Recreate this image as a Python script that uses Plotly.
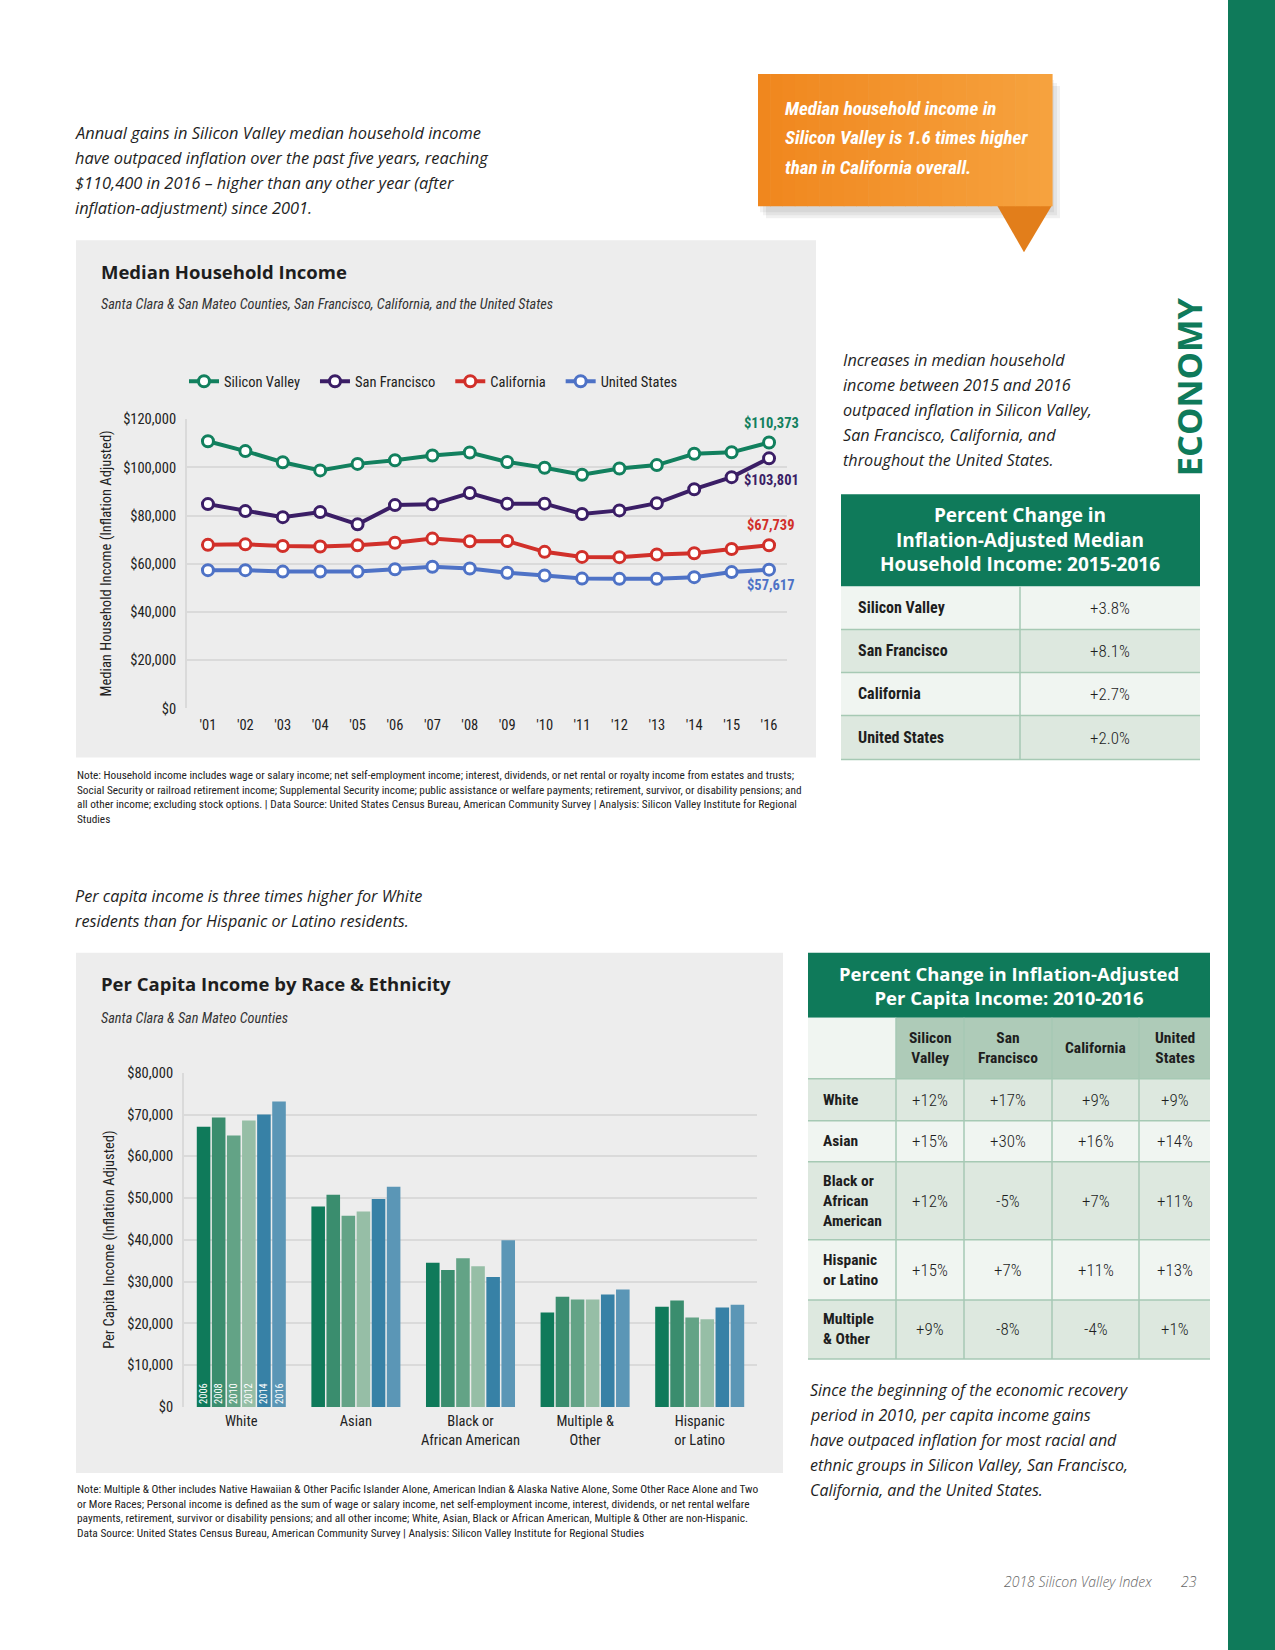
import plotly.graph_objects as go

W, H = 1275, 1650          # page size
FW, FH = W, H
# the photographed page is shifted by ~8px and squeezed ~1.1% vertically; compensate
VOFF, VSC = 8.0, 0.989
def X(p): return p / FW
def Y(p): return 1 - ((p - VOFF) / VSC) / FH

NARROW = "Roboto Condensed, Liberation Sans Narrow, DejaVu Sans Condensed, Roboto, sans-serif"
SANS = "Open Sans, Lato, sans-serif"
GREEN = "#0F7A5A"
PANEL = "#EDEDED"
GRID = "#DADADA"
TXT = "#1E1E1E"
NB = "\u00a0"

# ---------------- data ----------------
years = list(range(2001, 2017))
year_ticks = ["'01", "'02", "'03", "'04", "'05", "'06", "'07", "'08",
              "'09", "'10", "'11", "'12", "'13", "'14", "'15", "'16"]
silicon_valley = [110900, 106800, 102200, 98800, 101500, 103000, 105000, 106200,
                  102300, 99900, 97000, 99600, 101000, 105700, 106300, 110373]
san_francisco = [84800, 81900, 79400, 81500, 76400, 84400, 84700, 89400,
                 85000, 85000, 80700, 82200, 85200, 91000, 96000, 103801]
california = [67900, 68100, 67400, 67200, 67700, 68800, 70500, 69400,
              69500, 65000, 62900, 62800, 63900, 64400, 66200, 67739]
united_states = [57400, 57400, 56800, 56800, 56800, 57800, 58800, 58100,
                 56300, 55200, 53900, 53800, 53800, 54500, 56600, 57617]
line_names = ["Silicon Valley", "San Francisco", "California", "United States"]
line_colors = ["#12805E", "#3B1E66", "#D1302A", "#4E72C6"]
end_shift = [19, -22, 20, -16]

race_groups = ["White", "Asian", "Black or<br>African American",
               "Multiple &<br>Other", "Hispanic<br>or Latino"]
bar_years = ["2006", "2008", "2010", "2012", "2014", "2016"]
pc_2006 = [67100, 48000, 34500, 22600, 24000]
pc_2008 = [69300, 50800, 32800, 26400, 25500]
pc_2010 = [65000, 45800, 35600, 25700, 21400]
pc_2012 = [68600, 46800, 33700, 25700, 21000]
pc_2014 = [70000, 49800, 31100, 26900, 23800]
pc_2016 = [73100, 52700, 39900, 28100, 24500]
bar_colors = ["#0F7A5A", "#3A8D6E", "#63A386", "#96BEA6", "#3781A6", "#5B96B6"]

t1_labels = ["Silicon Valley", "San Francisco", "California", "United States"]
t1_values = ["+3.8%", "+8.1%", "+2.7%", "+2.0%"]

t2_cols = ["Silicon<br>Valley", "San<br>Francisco", "California", "United<br>States"]
t2_rows = ["White", "Asian", "Black or<br>African<br>American", "Hispanic<br>or Latino", "Multiple<br>& Other"]
t2_values = [["+12%", "+17%", "+9%", "+9%"],
             ["+15%", "+30%", "+16%", "+14%"],
             ["+12%", "-5%", "+7%", "+11%"],
             ["+15%", "+7%", "+11%", "+13%"],
             ["+9%", "-8%", "-4%", "+1%"]]

# ---------------- figure ----------------
fig = go.Figure()
shapes = []
ann = []

def rect(x0, y0, x1, y1, color, line=None, layer="below"):
    shapes.append(dict(type="rect", xref="paper", yref="paper", x0=X(x0), x1=X(x1),
                       y0=Y(y1), y1=Y(y0), fillcolor=color, layer=layer,
                       line=dict(width=0) if line is None else line))

def hline(x0, x1, y, color, w=1.5, layer="above"):
    shapes.append(dict(type="line", xref="paper", yref="paper", x0=X(x0), x1=X(x1),
                       y0=Y(y), y1=Y(y), line=dict(color=color, width=w), layer=layer))

def vline(x, y0, y1, color, w=1.5, layer="above"):
    shapes.append(dict(type="line", xref="paper", yref="paper", x0=X(x), x1=X(x),
                       y0=Y(y0), y1=Y(y1), line=dict(color=color, width=w), layer=layer))

def text(x, y, s, size=14, color=TXT, family=NARROW, xanchor="left", yanchor="middle",
         angle=0, align="left", weight=None):
    f = dict(size=size, color=color, family=family)
    if weight:
        f["weight"] = weight
    ann.append(dict(xref="paper", yref="paper", x=X(x), y=Y(y), text=s, showarrow=False,
                    xanchor=xanchor, yanchor=yanchor, textangle=angle, align=align, font=f))

def lines(x, y0, step, items, **kw):
    for i, s in enumerate(items):
        text(x, y0 + i * step, s, **kw)

# right green band
rect(1228, -20, 1290, 1680, GREEN)
text(1188, 387, "<b>ECONOMY</b>", size=34.5, color=GREEN, family=SANS,
     xanchor="center", angle=-90)

# orange callout with shadow
for k, a in enumerate([0.05, 0.05, 0.06]):
    o = 4 + 3 * k
    rect(758 + o - 2, 74 + o + 2, 1052 + o - 2, 206 + o + 2, "rgba(0,0,0,%.2f)" % a)
shapes.append(dict(type="path", xref="paper", yref="paper", layer="below",
                   path="M %f,%f L %f,%f L %f,%f Z" % (X(997), Y(205), X(1052), Y(205), X(1024), Y(252)),
                   fillcolor="#E27E1B", line=dict(width=0)))
nstrip = 24
c0, c1 = (240, 135, 30), (246, 162, 62)
for i in range(nstrip):
    t = i / (nstrip - 1)
    col = "rgb(%d,%d,%d)" % tuple(round(c0[j] + (c1[j] - c0[j]) * t) for j in range(3))
    xa = 758 + (1052 - 758) * i / nstrip
    xb = 758 + (1052 - 758) * (i + 1) / nstrip + 0.6
    rect(xa, 74, xb, 206, col)
lines(783, 108, 29.5, ["<b><i>Median household income in</i></b>",
                       "<b><i>Silicon Valley is 1.6 times higher</i></b>",
                       "<b><i>than in California overall.</i></b>"],
      size=19, color="white")

# intro texts
lines(73, 132.5, 25, ["<i>Annual gains in Silicon Valley median household income</i>",
                      "<i>have outpaced inflation over the past five years, reaching</i>",
                      "<i>$110,400 in 2016 – higher than any other year (after</i>",
                      "<i>inflation-adjustment) since 2001.</i>"],
      size=16.4, family=SANS)
lines(841, 360, 25, ["<i>Increases in median household</i>",
                     "<i>income between 2015 and 2016</i>",
                     "<i>outpaced inflation in Silicon Valley,</i>",
                     "<i>San Francisco, California, and</i>",
                     "<i>throughout the United States.</i>"],
      size=16.2, family=SANS)
lines(73, 895, 25, ["<i>Per capita income is three times higher for White</i>",
                    "<i>residents than for Hispanic or Latino residents.</i>"],
      size=16.2, family=SANS)
lines(808, 1389, 25, ["<i>Since the beginning of the economic recovery</i>",
                      "<i>period in 2010, per capita income gains</i>",
                      "<i>have outpaced inflation for most racial and</i>",
                      "<i>ethnic groups in Silicon Valley, San Francisco,</i>",
                      "<i>California, and the United States.</i>"],
      size=16, family=SANS)

# ---------- line chart panel ----------
rect(76, 240, 816, 757, PANEL)
text(99, 271, "<b>Median Household Income</b>", size=18.5, family=SANS)
text(99, 304, "<i>Santa Clara & San Mateo Counties, San Francisco, California, and the United States</i>",
     size=14.3, color="#333")
text(106, 563, "Median Household Income (Inflation Adjusted)", size=14.5, xanchor="center",
     angle=-90, color="#222")

for name, vals, col in zip(line_names, [silicon_valley, san_francisco, california, united_states], line_colors):
    fig.add_trace(go.Scatter(x=years, y=vals, name=name + NB * 3, mode="lines+markers",
                             line=dict(color=col, width=4),
                             marker=dict(symbol="circle", size=11, color="white",
                                         line=dict(color=col, width=3)),
                             xaxis="x", yaxis="y", showlegend=True))
for vals, col, sh in zip([silicon_valley, san_francisco, california, united_states], line_colors, end_shift):
    ann.append(dict(xref="x", yref="y", x=years[-1], y=vals[-1], text="<b>$%s</b>" % format(vals[-1], ","),
                    showarrow=False, yshift=sh, xshift=2, xanchor="center", yanchor="middle",
                    font=dict(size=14.5, color=col, family=NARROW)))

lines(75, 775, 14.7, [
    "Note: Household income includes wage or salary income; net self-employment income; interest, dividends, or net rental or royalty income from estates and trusts;",
    "Social Security or railroad retirement income; Supplemental Security income; public assistance or welfare payments; retirement, survivor, or disability pensions; and",
    "all other income; excluding stock options. | Data Source: United States Census Bureau, American Community Survey | Analysis: Silicon Valley Institute for Regional",
    "Studies"], size=11.3, color="#222")

# ---------- bar chart panel ----------
rect(76, 952, 783, 1472, PANEL)
text(99, 983, "<b>Per Capita Income by Race & Ethnicity</b>", size=18.5, family=SANS)
text(99, 1017, "<i>Santa Clara & San Mateo Counties</i>", size=14.3, color="#333")
text(110, 1239, "Per Capita Income (Inflation Adjusted)", size=14.5, xanchor="center",
     angle=-90, color="#222")

for yr, vals, col in zip(bar_years, [pc_2006, pc_2008, pc_2010, pc_2012, pc_2014, pc_2016], bar_colors):
    labels = [yr] + [""] * (len(race_groups) - 1)
    fig.add_trace(go.Bar(x=race_groups, y=vals, name=yr, marker=dict(color=col, line=dict(width=0)),
                         text=labels, textposition="inside", insidetextanchor="start",
                         textangle=-90, constraintext="none",
                         insidetextfont=dict(size=10.5, color="white", family=NARROW),
                         xaxis="x2", yaxis="y2", showlegend=False, hoverinfo="x+y"))

lines(75, 1488, 14.7, [
    "Note: Multiple & Other includes Native Hawaiian & Other Pacific Islander Alone, American Indian & Alaska Native Alone, Some Other Race Alone and Two",
    "or More Races; Personal income is defined as the sum of wage or salary income, net self-employment income, interest, dividends, or net rental welfare",
    "payments, retirement, survivor or disability pensions; and all other income; White, Asian, Black or African American, Multiple & Other are non-Hispanic.",
    "Data Source: United States Census Bureau, American Community Survey | Analysis: Silicon Valley Institute for Regional Studies"],
    size=11.4, color="#222")

# ---------- table 1 ----------
LIGHT, DARK, BORDER = "#F0F5F1", "#DDE8DF", "#A6C9B4"
t1_x = [841, 1020, 1200]
t1_y = [494, 586, 629, 672, 715, 759]
rect(t1_x[0], t1_y[0], t1_x[2], t1_y[1], GREEN)
text(1020, 539, "<b>Percent Change in<br>Inflation-Adjusted Median<br>Household Income: 2015-2016</b>",
     size=19, color="white", family=SANS, xanchor="center", align="center")
for i, (lab, val) in enumerate(zip(t1_labels, t1_values)):
    ya, yb = t1_y[i + 1], t1_y[i + 2]
    rect(t1_x[0], ya, t1_x[2], yb, LIGHT if i % 2 == 0 else DARK)
    hline(t1_x[0], t1_x[2], yb, BORDER)
    text(t1_x[0] + 15, (ya + yb) / 2, "<b>%s</b>" % lab, size=16)
    text((t1_x[1] + t1_x[2]) / 2, (ya + yb) / 2, val, size=17, xanchor="center", weight=300)
vline(t1_x[1], t1_y[1], t1_y[-1], BORDER)

# ---------- table 2 ----------
t2_x = [808, 896, 964, 1052, 1139, 1210]
t2_y = [952, 1017, 1078, 1120, 1161, 1239, 1299, 1358]
rect(t2_x[0], t2_y[0], t2_x[-1], t2_y[1], GREEN)
text(1009, 985, "<b>Percent Change in Inflation-Adjusted<br>Per Capita Income: 2010-2016</b>",
     size=18.5, color="white", family=SANS, xanchor="center", align="center")
rect(t2_x[0], t2_y[1], t2_x[1], t2_y[2], LIGHT)
rect(t2_x[1], t2_y[1], t2_x[-1], t2_y[2], "#AECBB8")
for j, c in enumerate(t2_cols):
    text((t2_x[j + 1] + t2_x[j + 2]) / 2, (t2_y[1] + t2_y[2]) / 2, "<b>%s</b>" % c,
         size=15.5, xanchor="center", align="center")
hline(t2_x[0], t2_x[-1], t2_y[2], BORDER)
for i, (lab, vals) in enumerate(zip(t2_rows, t2_values)):
    ya, yb = t2_y[i + 2], t2_y[i + 3]
    rect(t2_x[0], ya, t2_x[-1], yb, DARK if i % 2 == 0 else LIGHT)
    hline(t2_x[0], t2_x[-1], yb, BORDER)
    text(t2_x[0] + 13, (ya + yb) / 2, "<b>%s</b>" % lab, size=15.5)
    for j, v in enumerate(vals):
        text((t2_x[j + 1] + t2_x[j + 2]) / 2, (ya + yb) / 2, v, size=17, xanchor="center", weight=300)
for xv in t2_x[1:-1]:
    vline(xv, t2_y[1], t2_y[-1], BORDER)

# footer
text(1154, 1580, "<i>2018 Silicon Valley Index</i>", size=14, color="#666", family=SANS,
     xanchor="right", weight=300)
text(1199, 1580, "<i>23</i>", size=14, color="#666", family=SANS, xanchor="right", weight=300)

tickfont = dict(size=14.5, color="#222", family=NARROW)
fig.update_layout(
    width=FW, height=FH, margin=dict(l=0, r=0, t=0, b=0),
    paper_bgcolor="white", plot_bgcolor="rgba(0,0,0,0)",
    shapes=shapes, annotations=ann,
    barmode="group", bargap=0.21, bargroupgap=0.1,
    legend=dict(orientation="h", x=X(184), y=Y(381), xanchor="left", yanchor="middle",
                bgcolor="rgba(0,0,0,0)", font=dict(size=14.5, color="#222", family=NARROW),
                itemwidth=30, tracegroupgap=0),
    xaxis=dict(domain=[X(187), X(787)], range=[2001 - 0.56, 2016 + 0.48],
               tickvals=years, ticktext=year_ticks, showgrid=False, zeroline=False,
               showline=False, tickfont=tickfont, ticks="", ticklabelstandoff=6, anchor="y"),
    yaxis=dict(domain=[Y(708), Y(419)], range=[0, 120000], dtick=20000, tickprefix="$",
               tickformat=",d", gridcolor=GRID, gridwidth=2, zeroline=False, showline=True,
               linecolor=GRID, linewidth=2, tickfont=tickfont, ticks="", ticklabelstandoff=6,
               anchor="x"),
    xaxis2=dict(domain=[X(184), X(757)], type="category", showgrid=False, zeroline=False,
                showline=False, tickfont=tickfont, ticks="", ticklabelstandoff=4, anchor="y2"),
    yaxis2=dict(domain=[Y(1406), Y(1072)], range=[0, 80000], dtick=10000, tickprefix="$",
                tickformat=",d", gridcolor=GRID, gridwidth=2, zeroline=False, showline=True,
                linecolor=GRID, linewidth=2, tickfont=tickfont, ticks="", ticklabelstandoff=6,
                anchor="x2"),
)

fig.write_html("out.html", config={"displayModeBar": False},
               post_script="document.body.style.margin='0px';document.body.style.overflow='hidden';")
